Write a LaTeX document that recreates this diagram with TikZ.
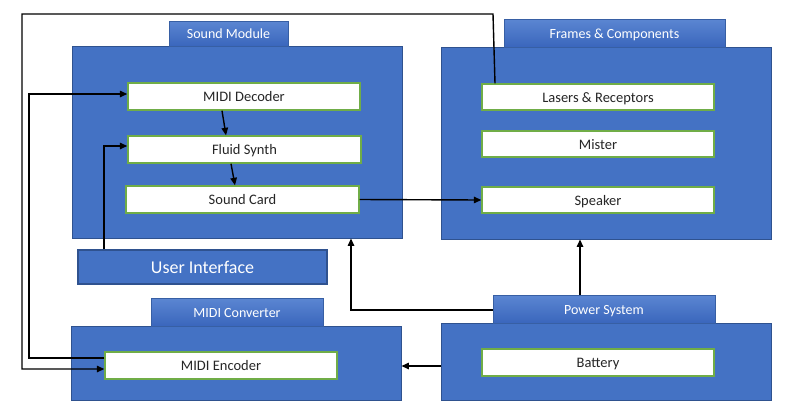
\documentclass[tikz,border=0pt]{standalone}
\usepackage{fontspec}
\setmainfont{Carlito}
\usetikzlibrary{arrows.meta}
\definecolor{blu}{HTML}{4472C4}
\definecolor{blud}{HTML}{2F528F}
\definecolor{tabtop}{HTML}{5B86D2}
\definecolor{tabbot}{HTML}{3A66BC}
\definecolor{grn}{HTML}{70AD47}
\definecolor{txt}{HTML}{262626}
\tikzset{
  blk/.style={draw=blud, line width=0.9pt, fill=blu, rectangle, inner sep=0pt},
  tabbox/.style={draw=blud!60!blu, line width=0.6pt, top color=tabtop, bottom color=tabbot, rectangle, inner sep=0pt, text=white, text height=10pt, text depth=0pt, font=\fontsize{14}{16}\selectfont},
  wbox/.style={draw=grn, line width=1.4pt, fill=white, rectangle, inner sep=0pt, minimum width=232pt, text=txt, text height=10.5pt, text depth=0pt, font=\fontsize{14.5}{16}\selectfont},
  uibox/.style={draw=blud, line width=1.2pt, fill=blu, rectangle, inner sep=0pt, text=white, text height=13pt, text depth=0pt, font=\fontsize{18}{20}\selectfont},
  arr/.style={draw=black, line width=1.4pt, -{Triangle[length=7.5pt,width=6.5pt]}},
  ln/.style={draw=black, line width=1.4pt}
}
\begin{document}
\begin{tikzpicture}[x=1pt,y=-1pt]
\useasboundingbox[fill=white] (0,0) rectangle (810,418);
% main boxes
\node[blk, minimum width=330pt, minimum height=192pt] (sm) at (237,142) {};
\node[blk, minimum width=330pt, minimum height=192pt] (fc) at (606,143) {};
\node[blk, minimum width=330pt, minimum height=74pt] (mc) at (236,363) {};
\node[blk, minimum width=330pt, minimum height=77pt] (ps) at (606,361.5) {};
% tabs
\node[tabbox, minimum width=119pt, minimum height=25pt] (smt) at (228.5,33.5) {Sound Module};
\node[tabbox, minimum width=221pt, minimum height=28pt] (fct) at (614.5,33) {Frames \& Components};
\node[tabbox, minimum width=172pt, minimum height=28pt] (mct) at (237,312) {MIDI Converter};
\node[tabbox, minimum width=222pt, minimum height=28pt] (pst) at (604,309) {Power System};
% inner boxes
\node[wbox, minimum height=27pt] (dec) at (244,96.5) {MIDI Decoder};
\node[wbox, minimum width=233pt, minimum height=27pt] (fs) at (244.5,149.5) {Fluid Synth};
\node[wbox, minimum width=233pt, minimum height=27pt] (sc) at (242.5,199.5) {Sound Card};
\node[wbox, minimum height=26pt] (las) at (598,97) {Lasers \& Receptors};
\node[wbox, minimum height=26pt] (mis) at (598,144) {Mister};
\node[wbox, minimum height=26pt] (spk) at (598,200) {Speaker};
\node[wbox, minimum height=27pt] (enc) at (221,365.5) {MIDI Encoder};
\node[wbox, minimum height=27pt] (bat) at (598,362.5) {Battery};
\node[uibox, minimum width=249pt, minimum height=34pt] (ui) at (202.5,267) {User Interface};
% connectors
\draw[arr] (las.north -| 495,0) -- (493,14) -- (22,14) -- (22,369) -- (enc.west |- 0,369);
\draw[arr] (enc.west |- 0,358) -- (29,358) -- (29,94) -- (dec.west |- 0,94);
\draw[arr] (dec.south -| 222,0) -- (fs.north -| 226,0);
\draw[arr] (fs.south -| 231,0) -- (sc.north -| 235,0);
\draw[arr] (ui.north -| 104,0) -- (104,146) -- (fs.west |- 0,146);
\draw[arr] (sc.east) -- (spk.west);
\draw[arr] (pst.north -| 580,0) -- (fc.south -| 580,0);
\draw[arr] (pst.west |- 0,310) -- (351,310) -- (sm.south -| 351,0);
\draw[arr] (ps.west |- 0,366) -- (mc.east |- 0,366);
\end{tikzpicture}
\end{document}
